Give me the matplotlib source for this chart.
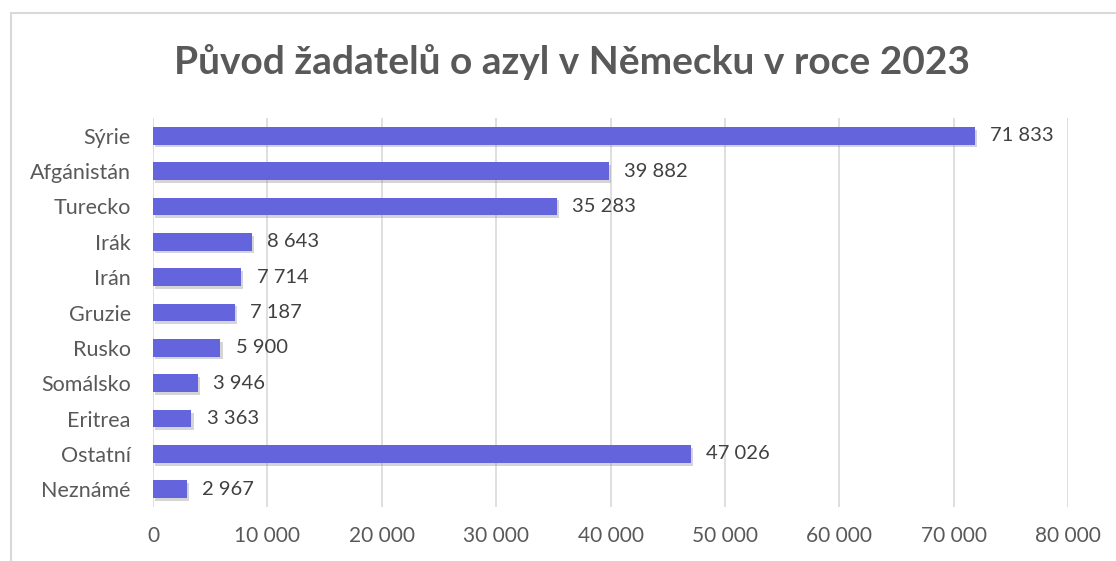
import matplotlib
matplotlib.use('Agg')
import matplotlib.pyplot as plt
import matplotlib.patheffects as pe
from matplotlib.patches import Rectangle

# data
countries = ['Sýrie', 'Afgánistán', 'Turecko', 'Irák', 'Irán', 'Gruzie',
             'Rusko', 'Somálsko', 'Eritrea', 'Ostatní', 'Neznámé']
values = [71833, 39882, 35283, 8643, 7714, 7187, 5900, 3946, 3363, 47026, 2967]
xticks = [0, 10000, 20000, 30000, 40000, 50000, 60000, 70000, 80000]
title = 'Původ žadatelů o azyl v Německu v roce 2023'


def fmt(v):
    return '{:,}'.format(v).replace(',', ' ')


plt.rcParams['font.family'] = ['Lato', 'DejaVu Sans']

fig = plt.figure(figsize=(11.16, 5.61), dpi=100)
# outer chart border (clipped at right/bottom like the screenshot)
fig.patches.append(Rectangle((11 / 1116, -0.1), 1.2, 1 - 13 / 561 + 0.1,
                             transform=fig.transFigure, fill=False,
                             edgecolor='#D9D9D9', linewidth=1.5))

ax = fig.add_axes([153 / 1116, 54 / 561, 915 / 1116, 389 / 561])

ypos = list(range(len(countries)))
bars = ax.barh(ypos, values, height=0.5, color='#6464DC', zorder=3)
for b in bars:
    b.set_path_effects([pe.SimplePatchShadow(offset=(1.5, -2), shadow_rgbFace='#888888', alpha=0.35),
                        pe.Normal()])

for y, v in zip(ypos, values):
    ax.annotate(fmt(v), (v, y), xytext=(11, 0), textcoords='offset points',
                va='center', ha='left', fontsize=14.5, color='#404040')

ax.set_ylim(len(countries) - 0.5, -0.5)
ax.set_yticks(ypos)
ax.set_yticklabels(countries, fontsize=15.5, color='#595959')
ax.set_xlim(0, 80000)
ax.set_xticks(xticks)
ax.set_xticklabels([fmt(t) for t in xticks], fontsize=15, color='#595959')
ax.tick_params(axis='y', length=0, pad=16)
ax.tick_params(axis='x', length=0, pad=14)
ax.grid(axis='x', color='#D9D9D9', linewidth=1.2, zorder=0)
for s in ax.spines.values():
    s.set_visible(False)

fig.text(0.5 + 14 / 1116, 1 - 62 / 561, title, ha='center', va='center',
         fontsize=28, fontweight='bold', color='#595959')

fig.savefig('out.png', dpi=100)
